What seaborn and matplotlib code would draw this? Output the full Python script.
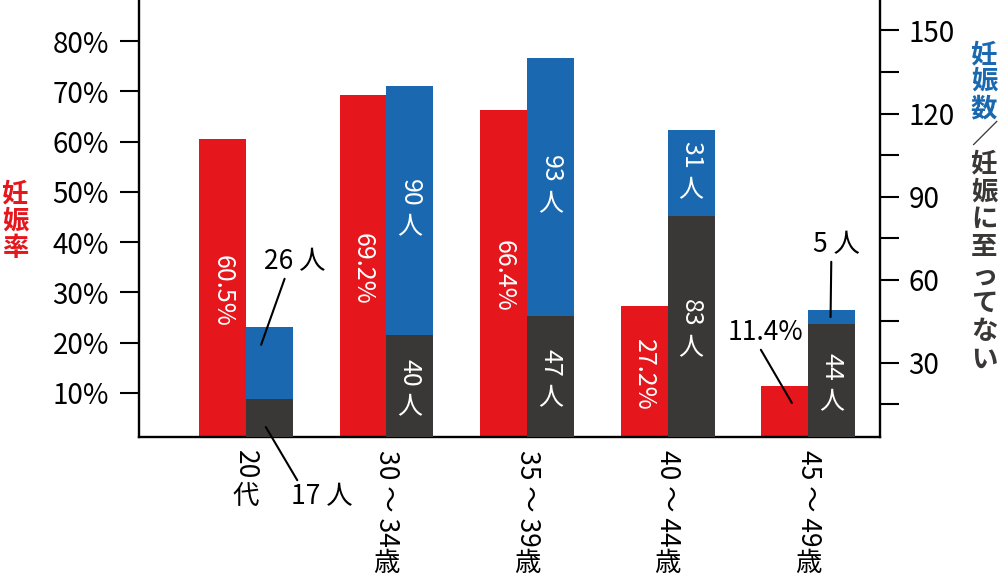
import numpy as np
import pandas as pd
import matplotlib.pyplot as plt
import matplotlib.transforms as mtransforms
import seaborn as sns

# data
ages = ["20代", "30〜34歳", "35〜39歳", "40〜44歳", "45〜49歳"]
age_nums = ["20", "30 〜 34", "35 〜 39", "40 〜 44", "45 〜 49"]
age_units = ["代", "歳", "歳", "歳", "歳"]
rate = [60.5, 69.2, 66.4, 27.2, 11.4]          # 妊娠率 (%)
pregnant = [26, 90, 93, 31, 5]                 # 妊娠数
not_pregnant = [17, 40, 47, 83, 44]            # 妊娠に至ってない

rate_ticks = [10, 20, 30, 40, 50, 60, 70, 80]
count_ticks = [30, 60, 90, 120, 150]
count_minor = [15, 45, 75, 105, 135]

red = "#e5161c"
blue = "#1a69b0"
dark = "#3a3737"

sns.set_style("ticks")
plt.rcParams["font.family"] = ["Noto Sans CJK JP", "DejaVu Sans"]
plt.rcParams["text.color"] = "black"

total = [p + n for p, n in zip(pregnant, not_pregnant)]
df_rate = pd.DataFrame({"age": ages, "value": rate, "series": "rate"})
df_total = pd.DataFrame({"age": ages, "value": total, "series": "count"})
df_not = pd.DataFrame({"age": ages, "value": not_pregnant, "series": "count"})

fig = plt.figure(figsize=(10, 5.88), dpi=100)
ax = fig.add_axes([0.139, 0.2568, 0.741, 0.7432])
ax2 = ax.twinx()

hue_order = ["rate", "count"]
group_w = 0.667
common = dict(x="age", y="value", hue="series", hue_order=hue_order, order=ages,
              width=group_w, dodge=True, saturation=1, linewidth=0, errorbar=None,
              legend=False)
sns.barplot(data=df_rate, palette={"rate": red, "count": blue}, ax=ax, **common)
sns.barplot(data=df_total, palette={"rate": red, "count": blue}, ax=ax2, **common)
sns.barplot(data=df_not, palette={"rate": red, "count": dark}, ax=ax2, **common)

off = group_w / 4
xs = np.arange(len(ages))

# axes, ticks, spines
ax.set_xlim(-0.76, 4.51)
ax.set_ylim(1.2, 88.2)
ax2.set_ylim(3.2, 161)
ax.set_xlabel("")
ax.set_ylabel("")
ax2.set_ylabel("")
ax.set_yticks(rate_ticks)
ax.set_yticklabels([f"{v}%" for v in rate_ticks])
ax2.set_yticks(count_ticks)
ax2.set_yticks(count_minor, minor=True)
ax.set_xticks(xs)
ax.set_xticklabels(age_nums, rotation=-90, va="top", ha="center")

ax.tick_params(axis="y", length=13.5, width=1.5, labelsize=20, pad=8, colors="black")
ax.tick_params(axis="x", length=0, pad=9, labelsize=19, labelcolor="black")
ax2.tick_params(axis="y", which="both", length=13.5, width=1.5, labelsize=20, pad=7,
                colors="black")

for s in ["top", "right"]:
    ax.spines[s].set_visible(False)
for s in ["top", "left", "bottom"]:
    ax2.spines[s].set_visible(False)
for sp in [ax.spines["left"], ax.spines["bottom"], ax2.spines["right"]]:
    sp.set_linewidth(1.7)
    sp.set_color("black")


def vlabel(axis, x, y, num, unit, color, size=18):
    # digits turned, 人 upright (vertical writing)
    axis.annotate(num, (x, y), xytext=(0, 3), textcoords="offset points",
                  rotation=-90, ha="center", va="bottom", color=color, fontsize=size)
    axis.annotate(unit, (x, y), xytext=(0, -3), textcoords="offset points",
                  ha="center", va="top", color=color, fontsize=size)


# labels inside bars
for i in range(4):
    ax.text(xs[i] - off, rate[i] / 2, f"{rate[i]}%", rotation=-90, ha="center",
            va="center", color="white", fontsize=18)
for i in range(1, 5):
    vlabel(ax2, xs[i] + off, not_pregnant[i] / 2, str(not_pregnant[i]), "人", "white")
for i in range(1, 4):
    vlabel(ax2, xs[i] + off, not_pregnant[i] + pregnant[i] / 2, str(pregnant[i]), "人", "white")

# labels outside with leader lines
line = dict(arrowstyle="-", color="black", lw=1.5, shrinkA=0, shrinkB=0)
ax2.annotate(f"{pregnant[0]} 人", (xs[0] + off * 0.65, not_pregnant[0] + pregnant[0] * 0.75),
             xytext=(295, 326), textcoords="figure pixels", ha="center", va="center",
             fontsize=19, arrowprops=dict(relpos=(0.35, 0), **line))
ax2.annotate(f"{not_pregnant[0]} 人", (xs[0] + off * 0.85, not_pregnant[0] * 0.4),
             xytext=(322, 91), textcoords="figure pixels", ha="center", va="center",
             fontsize=19, arrowprops=dict(relpos=(0.13, 1), **line))
ax.annotate(f"{rate[4]}%", (xs[4] - off * 0.7, rate[4] * 0.7),
            xytext=(765, 255), textcoords="figure pixels", ha="center", va="center",
            fontsize=19, arrowprops=dict(relpos=(0.42, 0), **line))
ax2.annotate(f"{pregnant[4]} 人", (xs[4] + off * 0.95, not_pregnant[4] + pregnant[4] / 2),
             xytext=(836, 343), textcoords="figure pixels", ha="center", va="center",
             fontsize=19, arrowprops=dict(relpos=(0.4, 0), **line))

# axis titles in vertical writing
fig.text(0.015, 1 - 221 / 588, "\n".join("妊娠率"), color=red, fontsize=19,
         fontweight="bold", ha="center", va="center", linespacing=1.0)
fig.text(0.984, 1 - 41 / 588, "\n".join("妊娠数"), color=blue, fontsize=19,
         fontweight="bold", ha="center", va="top", linespacing=1.0)
fig.text(0.984, 1 - 122 / 588, "\n".join("／妊娠に至ってない"), color=dark, fontsize=19,
         fontweight="bold", ha="center", va="top", linespacing=1.05)

# upright 代 / 歳 under the turned tick numbers
fig.canvas.draw()
for lab, unit in zip(ax.get_xticklabels(), age_units):
    bb = lab.get_window_extent()
    fig.text((bb.x0 + bb.x1) / 2, bb.y0 - 4, unit, ha="center", va="top", fontsize=19,
             transform=mtransforms.IdentityTransform())

fig.savefig("out.png", dpi=100)
